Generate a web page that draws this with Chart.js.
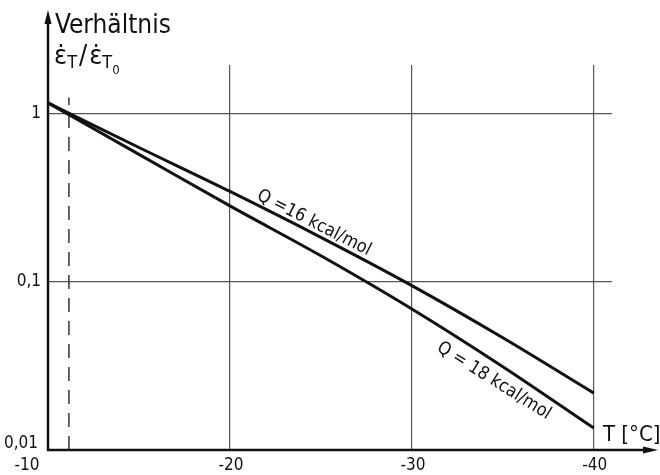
<!DOCTYPE html>
<html>
<head>
<meta charset="utf-8">
<style>
	body { margin: 0; background: #fff; }
	#wrap { width: 660px; height: 475px; }
</style>
</head>
<body>
<div id="wrap"><canvas id="graf" width="660" height="475"></canvas></div>
<script src="https://cdn.jsdelivr.net/npm/chart.js"></script>
<script>
	// temperature in degC and the read ratio for each Q
	const temps = [-10, -15, -20, -25, -30, -35, -40];
	const q16 = [1.16, 0.63, 0.345, 0.184, 0.095, 0.0465, 0.0218];
	const q18 = [1.16, 0.573, 0.283, 0.143, 0.069, 0.0313, 0.0135];
	const xTicks = [-10, -20, -30, -40];
	const yTicks = [0.01, 0.1, 1];
	const yTickLabels = ["0,01", "0,1", "1"];
	const t0 = -11.15;
	const t0Line = [0.01, 1.25];

	const font = "'Liberation Sans Narrow', 'DejaVu Sans Condensed', Roboto, sans-serif";

	function pts(ys) {
		return temps.map((t, i) => ({ x: t, y: ys[i] }));
	}

	function rotLabel(c, text, x, y, deg) {
		c.save();
		c.translate(x, y);
		c.rotate(deg * Math.PI / 180);
		c.fillText(text, 0, 0);
		c.restore();
	}

	const decor = {
		id: "decor",
		afterDraw(chart) {
			const c = chart.ctx;
			const a = chart.chartArea;
			const xs = chart.scales.x;
			const ys = chart.scales.y;
			c.save();
			c.strokeStyle = "#111";
			c.fillStyle = "#111";
			// axes with arrows
			c.lineWidth = 2.5;
			c.beginPath();
			c.moveTo(a.left, a.bottom + 1);
			c.lineTo(a.left, 16);
			c.moveTo(a.left - 1, a.bottom);
			c.lineTo(650, a.bottom);
			c.stroke();
			c.beginPath();
			c.moveTo(a.left, 10);
			c.lineTo(a.left - 3.5, 24);
			c.lineTo(a.left + 3.5, 24);
			c.fill();
			c.beginPath();
			c.moveTo(658, a.bottom);
			c.lineTo(643, a.bottom - 3.5);
			c.lineTo(643, a.bottom + 3.5);
			c.fill();

			// tick labels
			c.font = "17px " + font;
			c.textBaseline = "middle";
			c.textAlign = "right";
			yTicks.forEach((v, i) => {
				let y = ys.getPixelForValue(v);
				let x = a.left - 7;
				if (v === 0.01) { y -= 6; x -= 3; }
				c.fillText(yTickLabels[i], x, y);
			});
			c.textAlign = "center";
			xTicks.forEach(v => {
				let x = xs.getPixelForValue(v);
				if (v === -10) x -= 22;
				c.fillText(String(v), x + 1, a.bottom + 16);
			});

			// axis titles
			c.textAlign = "left";
			c.textBaseline = "alphabetic";
			c.font = "26px " + font;
			c.fillText("Verhältnis", 55, 33);
			c.font = "22px " + font;
			c.fillText("T [°C]", 603, 441);
			let x0 = 54;
			c.font = "27px " + font;
			c.fillText("ε̇", x0, 64);
			let w = c.measureText("ε̇").width;
			c.font = "18px " + font;
			c.fillText("T", x0 + w, 68);
			let w2 = c.measureText("T").width;
			c.font = "27px " + font;
			c.fillText("/", x0 + w + w2 + 2, 64);
			let w3 = c.measureText("/").width;
			let x2 = x0 + w + w2 + w3 + 4;
			c.fillText("ε̇", x2, 64);
			c.font = "18px " + font;
			c.fillText("T", x2 + w, 68);
			c.font = "13px " + font;
			c.fillText("0", x2 + w + w2, 74);

			// curve labels
			c.font = "18px " + font;
			c.textAlign = "center";
			c.textBaseline = "middle";
			rotLabel(c, "Q =16 kcal/mol", 314, 223, 27);
			rotLabel(c, "Q = 18 kcal/mol", 494, 381, 32);
			c.restore();
		},
	};

	new Chart(document.getElementById("graf"), {
		type: "line",
		data: {
			datasets: [
				{
					data: pts(q16),
					borderColor: "#111",
					borderWidth: 3,
					pointRadius: 0,
					cubicInterpolationMode: "monotone",
				},
				{
					data: pts(q18),
					borderColor: "#111",
					borderWidth: 3,
					pointRadius: 0,
					cubicInterpolationMode: "monotone",
				},
				{
					data: t0Line.map(v => ({ x: t0, y: v })),
					borderColor: "#333",
					borderWidth: 1.5,
					borderDash: [14, 9],
					pointRadius: 0,
				},
			],
		},
		options: {
			responsive: false,
			animation: false,
			layout: { padding: { top: 65, right: 48, left: 0, bottom: 0 } },
			plugins: {
				legend: { display: false },
				tooltip: { enabled: false },
			},
			scales: {
				x: {
					type: "linear",
					reverse: true,
					min: -41,
					max: -10,
					afterBuildTicks: s => { s.ticks = xTicks.map(v => ({ value: v })); },
					afterFit: s => { s.height = 25; },
					ticks: { display: false },
					border: { display: false },
					grid: {
						drawTicks: false,
						lineWidth: 1.2,
						color: ctx => (ctx.tick && ctx.tick.value === -10 ? "rgba(0,0,0,0)" : "#555"),
					},
				},
				y: {
					type: "logarithmic",
					min: 0.01,
					max: 1.95,
					afterBuildTicks: s => { s.ticks = yTicks.map(v => ({ value: v })); },
					afterFit: s => { s.width = 48; },
					ticks: { display: false },
					border: { display: false },
					grid: {
						drawTicks: false,
						lineWidth: 1.2,
						color: ctx => (ctx.tick && ctx.tick.value === 0.01 ? "rgba(0,0,0,0)" : "#555"),
					},
				},
			},
		},
		plugins: [decor],
	});
</script>
</body>
</html>
